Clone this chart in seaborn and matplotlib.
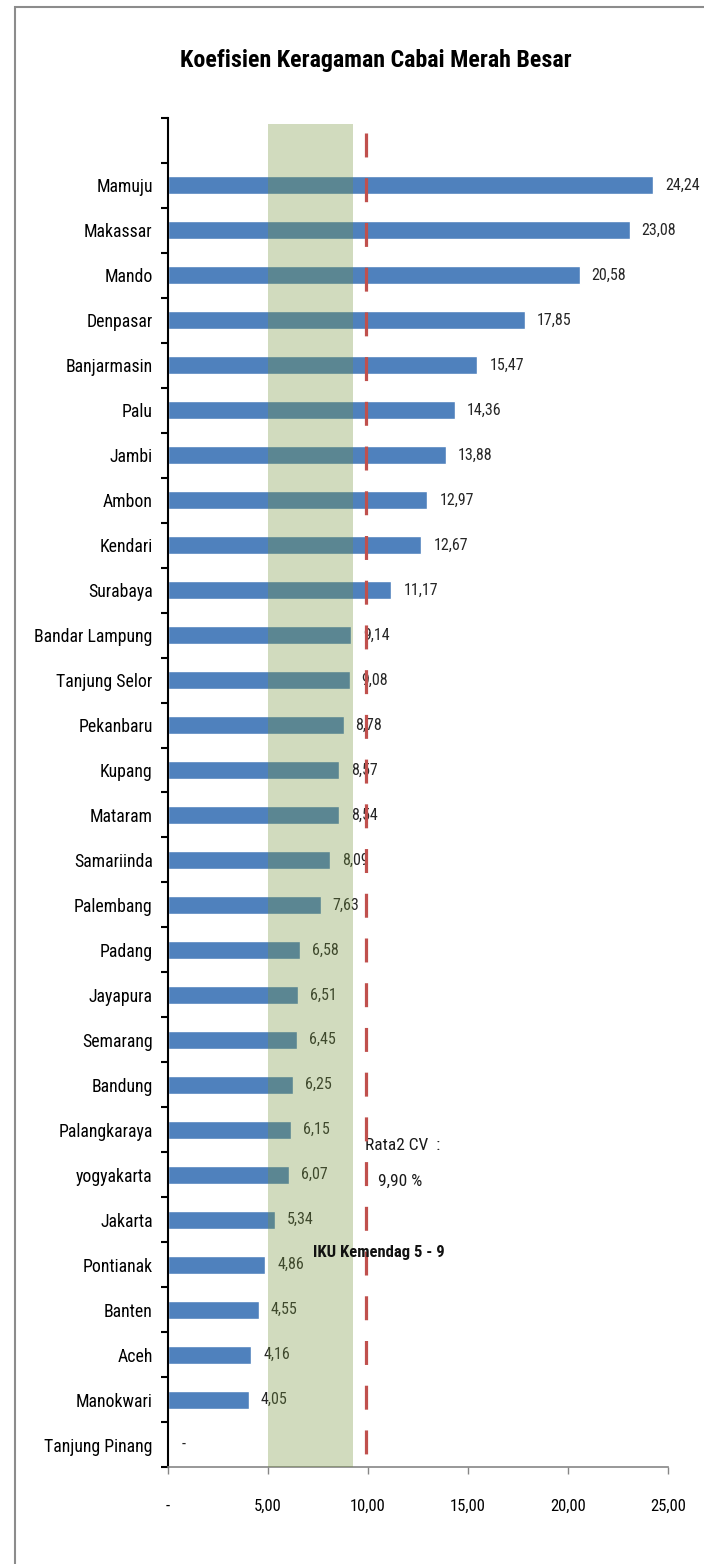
"""Koefisien Keragaman Cabai Merah Besar - horizontal bar chart."""
import numpy as np
import pandas as pd
import matplotlib
matplotlib.use("Agg")
import matplotlib.pyplot as plt
import seaborn as sns
from matplotlib import font_manager
from matplotlib.patches import Rectangle

cities = ["Mamuju", "Makassar", "Mando", "Denpasar", "Banjarmasin", "Palu", "Jambi",
          "Ambon", "Kendari", "Surabaya", "Bandar Lampung", "Tanjung Selor", "Pekanbaru",
          "Kupang", "Mataram", "Samariinda", "Palembang", "Padang", "Jayapura", "Semarang",
          "Bandung", "Palangkaraya", "yogyakarta", "Jakarta", "Pontianak", "Banten", "Aceh",
          "Manokwari", "Tanjung Pinang"]
cv_values = [24.24, 23.08, 20.58, 17.85, 15.47, 14.36, 13.88, 12.97, 12.67, 11.17,
             9.14, 9.08, 8.78, 8.57, 8.54, 8.09, 7.63, 6.58, 6.51, 6.45, 6.25, 6.15,
             6.07, 5.34, 4.86, 4.55, 4.16, 4.05, 0.0]
x_ticks = [0, 5, 10, 15, 20, 25]
x_tick_labels = ["-", "5,00", "10,00", "15,00", "20,00", "25,00"]
iku_range = [5.0, 9.25]
avg_cv = 9.90

BLUE = "#4F81BD"
RED = "#C0504D"
BAND = "#74933C"

# narrow face, close to the Calibri look of the original
names = {f.name for f in font_manager.fontManager.ttflist}
if "Roboto Condensed" in names:
    FONT = ["Roboto Condensed", "DejaVu Sans"]
else:
    FONT = ["Roboto", "DejaVu Sans"]

sns.set_theme(style="white")
plt.rcParams["font.family"] = FONT

df = pd.DataFrame({"city": cities, "cv": cv_values})

fig = plt.figure(figsize=(7.04, 15.64), dpi=100)
ax = fig.add_axes([168 / 704, 1 - 1467 / 1564, 500 / 704, 1349 / 1564])

sns.barplot(data=df, x="cv", y="city", orient="h", color=BLUE, saturation=1,
            width=0.4, ax=ax, zorder=2)

# value labels
for i, v in enumerate(cv_values):
    txt = "-" if v == 0 else f"{v:.2f}".replace(".", ",")
    ax.text(v + 0.6 if v > 0 else 0.7, i, txt, va="center", ha="left",
            fontsize=11.5, color="#262626", zorder=2)

ax.set_xlim(0, 25)
ax.set_ylim(len(cities) - 0.5, -1.5)

# IKU band and average line
ax.axvspan(iku_range[0], iku_range[1], ymin=0, ymax=0.9955, color=BAND, alpha=0.33,
           lw=0, zorder=3)
ax.plot([avg_cv, avg_cv], [-1.17, len(cities) - 0.5], color=RED, lw=2.3,
        ls=(0, (7.5, 6.5)), zorder=4, solid_capstyle="butt", dash_capstyle="butt")

ax.text(9.85, 21.36, "Rata2 CV  :", fontsize=12.5, ha="left", va="center", color="#1a1a1a")
ax.text(10.5, 22.14, "9,90 %", fontsize=12.5, ha="left", va="center", color="#1a1a1a")
ax.text(7.25, 23.72, "IKU Kemendag 5 - 9", fontsize=12, fontweight="bold",
        ha="left", va="center", color="#111111", zorder=5)

# axes styling
for s in ["top", "right"]:
    ax.spines[s].set_visible(False)
ax.spines["left"].set_color("black")
ax.spines["left"].set_linewidth(1.5)
ax.spines["bottom"].set_color("#868686")
ax.spines["bottom"].set_linewidth(1.2)

ax.set_xticks(x_ticks)
ax.set_xticklabels(x_tick_labels, fontsize=12)
ax.tick_params(axis="x", which="major", direction="out", length=5, width=1,
               color="#868686", bottom=True, pad=18, labelcolor="black")
ax.set_yticks(range(len(cities)))
ax.set_yticklabels(cities, fontsize=12.8)
ax.tick_params(axis="y", which="major", length=0, pad=11, labelcolor="black")
ax.set_yticks(np.arange(-1.5, len(cities), 1.0), minor=True)
ax.tick_params(axis="y", which="minor", direction="out", length=5, width=1.5,
               color="black", left=True)
ax.set_xlabel("")
ax.set_ylabel("")
ax.grid(False)

fig.text(376 / 704, 1 - 60 / 1564, "Koefisien Keragaman Cabai Merah Besar",
         ha="center", va="center", fontsize=17.3, fontweight="bold", color="black")

# chart frame
fig.patches.append(Rectangle((15 / 704, -0.1), 1.2, (1 - 7 / 1564) + 0.1,
                             transform=fig.transFigure, fill=False,
                             edgecolor="#8c8c8c", lw=1.5))

fig.savefig("out.png", dpi=100)
